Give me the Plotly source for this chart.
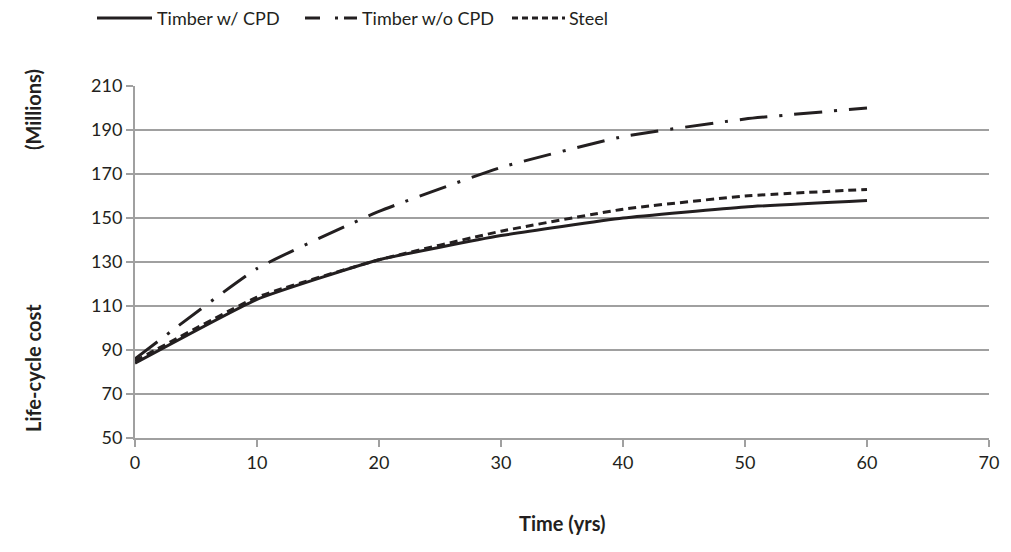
import plotly.graph_objects as go

years = [0, 10, 20, 30, 40, 50, 60]
timber_cpd = [84, 113, 131, 142, 150, 155, 158]
timber_no_cpd = [86, 127, 153, 173, 187, 195, 200]
steel = [85, 114, 131, 144, 154, 160, 163]
series_names = ["Timber w/ CPD", "Timber w/o CPD", "Steel"]

font_family = "Lato, Open Sans, sans-serif"
ink = "#231f20"
dashes = ["solid", "28px,12px,3px,12px", "8px,5px"]
legend_dashes = ["solid", "15px,15px,3px,6px", "6px,4px"]

# page body has 8px default margin; compensate
W, H = 1003, 544
L, T, R = 127, 78, 22
plot_h = 352
B = H - T - plot_h
plot_w = W - L - R

fig = go.Figure()
for name, vals, d in zip(series_names, [timber_cpd, timber_no_cpd, steel], dashes):
    fig.add_trace(go.Scatter(x=years, y=vals, mode="lines", name=name, showlegend=False,
                             line=dict(color=ink, width=3, dash=d, shape="spline", smoothing=0.4)))

# manual legend (positions in viewport px -> paper)
def px_x(px):
    return (px - 8 - L) / plot_w
def px_y(py):
    return (T + plot_h - (py - 8)) / plot_h

legend_lines = [(97, 152), (305, 357), (512, 565)]
legend_text_x = [155, 360, 567]
shapes = []
annotations = []
ly = px_y(18)
for (a, b), tx, name, d in zip(legend_lines, legend_text_x, series_names, legend_dashes):
    shapes.append(dict(type="line", xref="paper", yref="paper", x0=px_x(a), x1=px_x(b), y0=ly, y1=ly,
                       line=dict(color=ink, width=3, dash=d)))
    annotations.append(dict(text=name, xref="paper", yref="paper", x=px_x(tx), y=ly, xanchor="left",
                            yanchor="middle", showarrow=False, font=dict(size=18)))

annotations += [
    dict(text="<b>Time (yrs)</b>", xref="paper", yref="paper", x=0.5, y=px_y(523), yanchor="middle",
         showarrow=False, font=dict(size=20)),
    dict(text="<b>Life-cycle cost</b>", xref="paper", yref="paper", x=px_x(33), y=px_y(368),
         xanchor="center", yanchor="middle", textangle=-90, showarrow=False, font=dict(size=20)),
    dict(text="<b>(Millions)</b>", xref="paper", yref="paper", x=px_x(33), y=px_y(110),
         xanchor="center", yanchor="middle", textangle=-90, showarrow=False, font=dict(size=20)),
]

fig.update_layout(
    width=W, height=H,
    paper_bgcolor="white", plot_bgcolor="white",
    margin=dict(l=L, r=R, t=T, b=B, autoexpand=False),
    font=dict(family=font_family, size=18, color=ink),
    showlegend=False,
    xaxis=dict(range=[0, 70], dtick=10, tick0=0, showgrid=False, showline=True, linecolor="#a0a0a0",
               linewidth=2, ticks="outside", ticklen=7, tickcolor="#a0a0a0", tickwidth=2, zeroline=False,
               tickfont=dict(size=18)),
    yaxis=dict(range=[50, 210], dtick=20, tick0=50, showgrid=True, gridcolor="#a0a0a0", gridwidth=2,
               showline=True, linecolor="#a0a0a0", linewidth=2, ticks="outside", ticklen=7,
               tickcolor="#a0a0a0", tickwidth=2, zeroline=False, tickfont=dict(size=18)),
    shapes=shapes,
    annotations=annotations,
)

fig.write_html("out.html")
